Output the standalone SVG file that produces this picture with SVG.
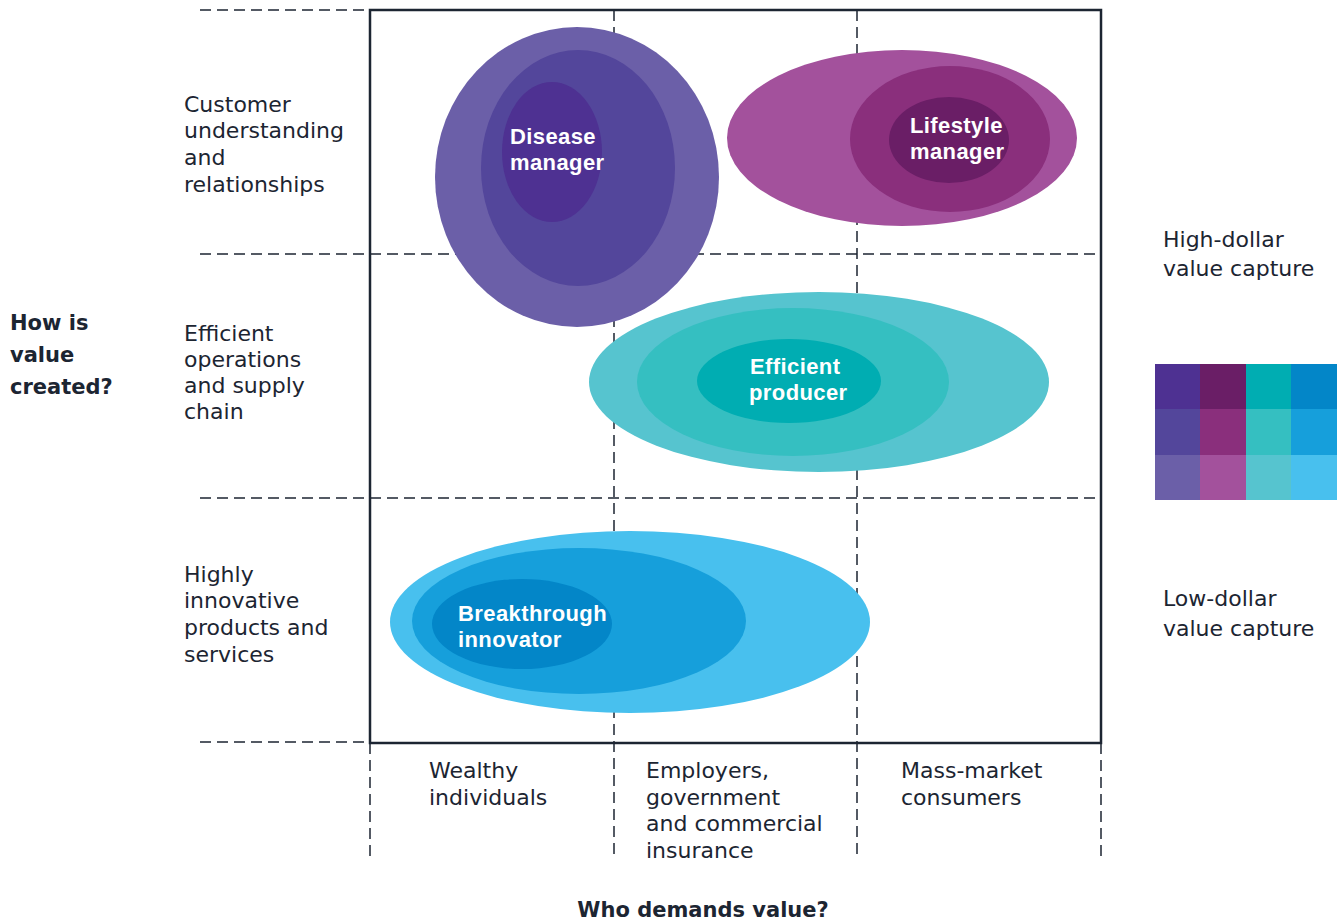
<svg xmlns="http://www.w3.org/2000/svg" width="1340" height="923" viewBox="0 0 1340 923">
<style>
.t{font-family:"DejaVu Sans","Liberation Sans",sans-serif;font-size:22px;fill:#1c2532}
.b{font-family:"DejaVu Sans","Liberation Sans",sans-serif;font-size:21px;font-weight:700;fill:#1c2532}
.w{font-family:"Liberation Sans","DejaVu Sans",sans-serif;font-size:22px;font-weight:700;fill:#ffffff;letter-spacing:0.4px}
.d{stroke:#1c2532;stroke-width:1.5;stroke-dasharray:11 6;fill:none}
</style>
<rect width="1340" height="923" fill="#ffffff"/>
<g id="grid">
<line class="d" x1="200" y1="10" x2="370" y2="10"/>
<line class="d" x1="200" y1="254" x2="1101" y2="254"/>
<line class="d" x1="200" y1="498" x2="1101" y2="498"/>
<line class="d" x1="200" y1="742" x2="370" y2="742"/>
<line class="d" x1="614" y1="10" x2="614" y2="858"/>
<line class="d" x1="857" y1="10" x2="857" y2="858"/>
<line class="d" x1="370" y1="743" x2="370" y2="858"/>
<line class="d" x1="1101" y1="743" x2="1101" y2="858"/>
<rect x="370" y="10" width="731" height="733" fill="none" stroke="#1c2532" stroke-width="2.5"/>
</g>
<g id="disease-manager">
<ellipse cx="577" cy="177" rx="142" ry="150" fill="#6b5fa8"/>
<ellipse cx="578" cy="168" rx="97" ry="118" fill="#53469b"/>
<ellipse cx="552" cy="152" rx="50" ry="70" fill="#4e3192"/>
<text class="w" x="510" y="144">Disease</text>
<text class="w" x="510" y="170">manager</text>
</g>
<g id="lifestyle-manager">
<ellipse cx="902" cy="138" rx="175" ry="88" fill="#a3519c"/>
<ellipse cx="950" cy="139" rx="100" ry="73" fill="#8a2f7c"/>
<ellipse cx="949" cy="140" rx="60" ry="43" fill="#6a1e66"/>
<text class="w" x="910" y="133">Lifestyle</text>
<text class="w" x="910" y="159">manager</text>
</g>
<g id="efficient-producer">
<ellipse cx="819" cy="382" rx="230" ry="90" fill="#56c4cf"/>
<ellipse cx="793" cy="382" rx="156" ry="74" fill="#35bfc1"/>
<ellipse cx="789" cy="381" rx="92" ry="42" fill="#00adb2"/>
<text class="w" x="750" y="374">Efficient</text>
<text class="w" x="749" y="400">producer</text>
</g>
<g id="breakthrough-innovator">
<ellipse cx="630" cy="622" rx="240" ry="91" fill="#48c0ee"/>
<ellipse cx="579" cy="621" rx="167" ry="73" fill="#169fdb"/>
<ellipse cx="522" cy="624" rx="90" ry="45" fill="#0386c8"/>
<text class="w" x="458" y="621">Breakthrough</text>
<text class="w" x="458" y="647">innovator</text>
</g>
<g id="row-labels">
<text class="t" x="184" y="112">Customer</text>
<text class="t" x="184" y="138">understanding</text>
<text class="t" x="184" y="165">and</text>
<text class="t" x="184" y="192">relationships</text>
<text class="t" x="184" y="341">Efficient</text>
<text class="t" x="184" y="367">operations</text>
<text class="t" x="184" y="393">and supply</text>
<text class="t" x="184" y="419">chain</text>
<text class="t" x="184" y="582">Highly</text>
<text class="t" x="184" y="608">innovative</text>
<text class="t" x="184" y="635">products and</text>
<text class="t" x="184" y="662">services</text>
</g>
<g id="y-axis-title">
<text class="b" x="10" y="330">How is</text>
<text class="b" x="10" y="362">value</text>
<text class="b" x="10" y="394">created?</text>
</g>
<g id="column-labels">
<text class="t" x="429" y="778">Wealthy</text>
<text class="t" x="429" y="805">individuals</text>
<text class="t" x="646" y="778">Employers,</text>
<text class="t" x="646" y="805">government</text>
<text class="t" x="646" y="831">and commercial</text>
<text class="t" x="646" y="858">insurance</text>
<text class="t" x="901" y="778">Mass-market</text>
<text class="t" x="901" y="805">consumers</text>
</g>
<g id="x-axis-title">
<text class="b" x="703" y="917" text-anchor="middle">Who demands value?</text>
</g>
<g id="legend">
<rect x="1155" y="364" width="46" height="46" fill="#4e3192"/>
<rect x="1200" y="364" width="46" height="46" fill="#6a1e66"/>
<rect x="1246" y="364" width="46" height="46" fill="#00adb2"/>
<rect x="1291" y="364" width="46" height="46" fill="#0386c8"/>
<rect x="1155" y="409" width="46" height="46" fill="#53469b"/>
<rect x="1200" y="409" width="46" height="46" fill="#8a2f7c"/>
<rect x="1246" y="409" width="46" height="46" fill="#35bfc1"/>
<rect x="1291" y="409" width="46" height="46" fill="#169fdb"/>
<rect x="1155" y="455" width="46" height="45" fill="#6b5fa8"/>
<rect x="1200" y="455" width="46" height="45" fill="#a3519c"/>
<rect x="1246" y="455" width="46" height="45" fill="#56c4cf"/>
<rect x="1291" y="455" width="46" height="45" fill="#48c0ee"/>
<text class="t" x="1163" y="247">High-dollar</text>
<text class="t" x="1163" y="276">value capture</text>
<text class="t" x="1163" y="606">Low-dollar</text>
<text class="t" x="1163" y="636">value capture</text>
</g>
</svg>
